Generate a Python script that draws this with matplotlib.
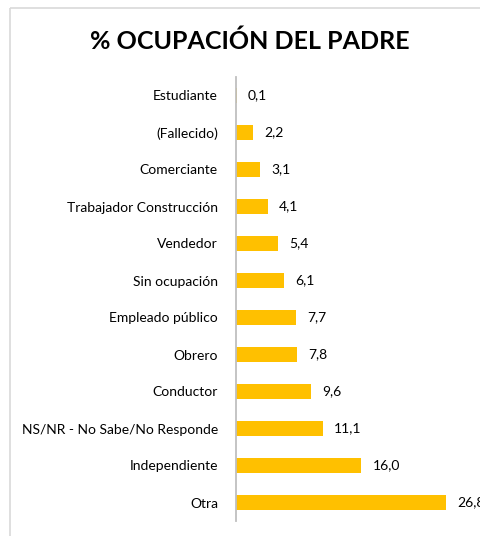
import matplotlib.pyplot as plt
from matplotlib.patches import Rectangle

categories = [
    "Estudiante", "(Fallecido)", "Comerciante", "Trabajador Construcción",
    "Vendedor", "Sin ocupación", "Empleado público", "Obrero", "Conductor",
    "NS/NR - No Sabe/No Responde", "Independiente", "Otra",
]
values = [0.1, 2.2, 3.1, 4.1, 5.4, 6.1, 7.7, 7.8, 9.6, 11.1, 16.0, 26.8]

W, H = 480, 536
plt.rcParams["font.family"] = ["Lato", "DejaVu Sans"]

fig = plt.figure(figsize=(W / 100, H / 100), dpi=100)
fig.patch.set_facecolor("white")

# chart frame, running off the right and bottom edges
fig.patches.append(Rectangle((10 / W, 1 - 8 / H), 1, -1, transform=fig.transFigure,
                             fill=False, edgecolor="#d9d9d9", lw=1.2, clip_on=False))

left, right = 236, 236 + 7.84 * 30
top, bottom = 77, 521
ax = fig.add_axes([left / W, 1 - bottom / H, (right - left) / W, (bottom - top) / H])

y = list(range(len(categories)))
ax.barh(y, values, height=0.41, color="#FFC000")
for yi, v in zip(y, values):
    ax.annotate(f"{v:.1f}".replace(".", ","), (v, yi), xytext=(8, 0),
                textcoords="offset points", va="center", ha="left",
                fontsize=10, color="#000000", annotation_clip=False)

ax.set_ylim(len(categories) - 0.5, -0.5)
ax.set_xlim(0, 30)
ax.set_yticks(y, categories, fontsize=10)
ax.tick_params(axis="y", length=0, pad=13)
ax.set_xticks([])
for side in ("top", "right", "bottom"):
    ax.spines[side].set_visible(False)
ax.spines["left"].set_color("#bfbfbf")
ax.spines["left"].set_linewidth(1.3)
ax.set_facecolor("none")

fig.text(250 / W, 1 - 41 / H, "% OCUPACIÓN DEL PADRE", ha="center", va="center",
         fontsize=18, fontweight="bold")

fig.savefig("out.png", dpi=100)
